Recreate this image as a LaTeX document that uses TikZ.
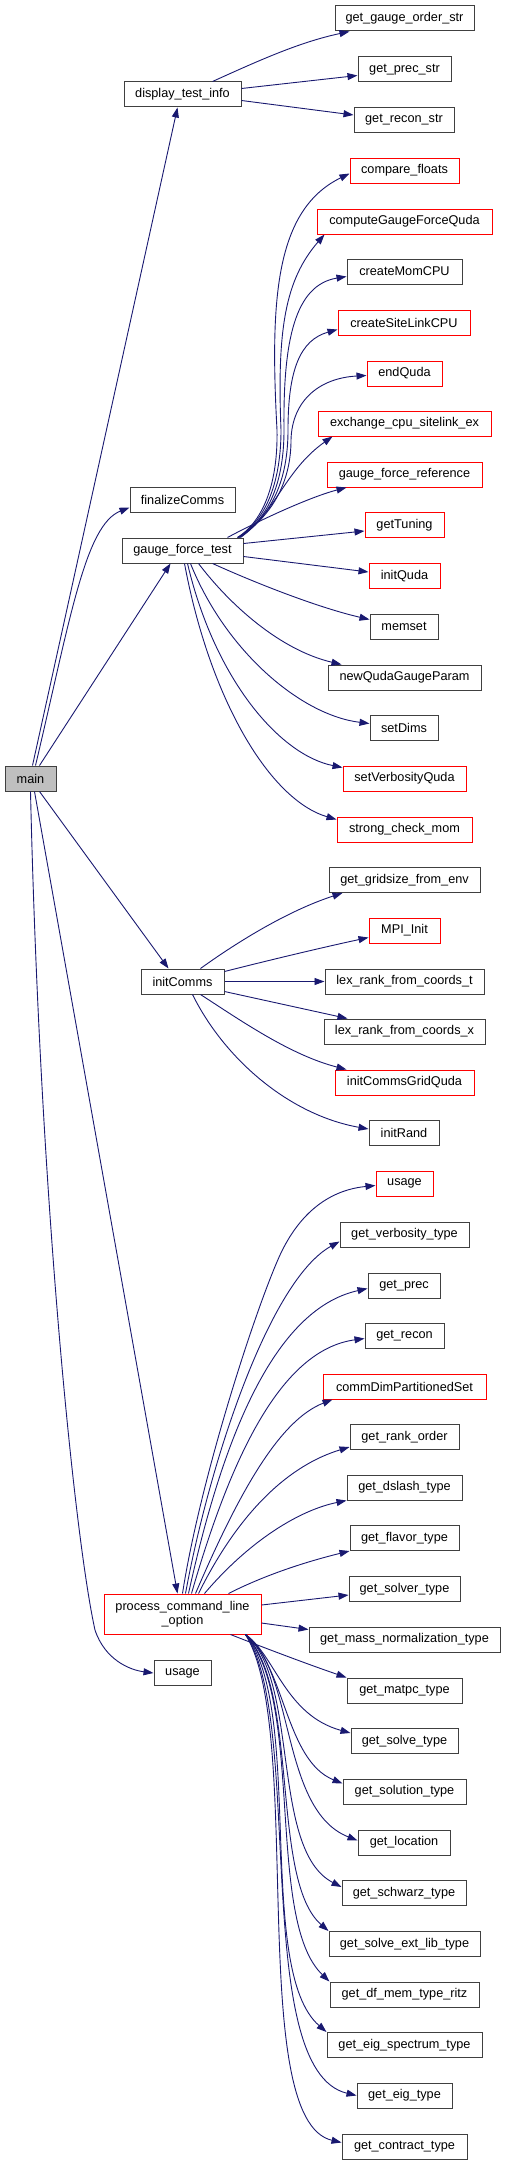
\documentclass[tikz,border=0pt]{standalone}
\usepackage{fontspec}
\setmainfont{Liberation Sans}
\usetikzlibrary{arrows.meta,calc}
\definecolor{edgeblue}{HTML}{191970}
\definecolor{boxgray}{HTML}{404040}
\definecolor{mainfill}{HTML}{BFBFBF}
\tikzset{
  fn/.style={draw=boxgray, line width=1pt, rectangle, inner sep=0pt, minimum height=25pt, font=\fontsize{12.7}{14.5}\selectfont, align=center},
  fnred/.style={fn, draw=red},
  fnmain/.style={fn, fill=mainfill},
  edge/.style={draw=edgeblue, line width=0.9pt, -{Triangle[length=10pt,width=7pt]}},
}
\newcommand\gnode[6]{\node[#5, minimum width=#4pt] (#1) at (#2,#3) {#6};}
\begin{document}
\begin{tikzpicture}[x=1pt,y=-1pt]
\useasboundingbox (0,0) rectangle (505,2165);
% nodes
\gnode{gos}{404.5}{18.5}{139}{fn}{get\_gauge\_order\_str}
\gnode{pstr}{404.5}{69.5}{93}{fn}{get\_prec\_str}
\gnode{dti}{182.5}{94.5}{117}{fn}{display\_test\_info}
\gnode{rstr}{404}{120}{100}{fn}{get\_recon\_str}
\gnode{cf}{404.5}{170.5}{109}{fnred}{compare\_floats}
\gnode{cgf}{404.5}{221.5}{175}{fnred}{computeGaugeForceQuda}
\gnode{cmc}{404.5}{271.5}{115}{fn}{createMomCPU}
\gnode{csl}{404}{322.5}{132}{fnred}{createSiteLinkCPU}
\gnode{eq}{404.5}{373.5}{75}{fnred}{endQuda}
\gnode{ex}{404.5}{423.5}{173}{fnred}{exchange\_cpu\_sitelink\_ex}
\gnode{gfr}{404.5}{474.5}{155}{fnred}{gauge\_force\_reference}
\gnode{fc}{182.5}{499.5}{105}{fn}{finalizeComms}
\gnode{gt}{404.5}{525}{79}{fnred}{getTuning}
\gnode{gft}{182.5}{550.5}{121}{fn}{gauge\_force\_test}
\gnode{iq}{404.5}{576}{71}{fnred}{initQuda}
\gnode{ms}{404}{626.5}{68}{fn}{memset}
\gnode{nqg}{404.5}{677.5}{153}{fn}{newQudaGaugeParam}
\gnode{sd}{404}{727.5}{68}{fn}{setDims}
\gnode{main}{30.5}{778.5}{51}{fnmain}{main}
\gnode{svq}{404.5}{778.5}{123}{fnred}{setVerbosityQuda}
\gnode{scm}{404.5}{829.5}{135}{fnred}{strong\_check\_mom}
\gnode{gge}{404.5}{880}{151}{fn}{get\_gridsize\_from\_env}
\gnode{mpi}{404.5}{930.5}{71}{fnred}{MPI\_Init}
\gnode{ic}{182.5}{981.5}{83}{fn}{initComms}
\gnode{lrt}{404.5}{981.5}{159}{fn}{lex\_rank\_from\_coords\_t}
\gnode{lrx}{404.5}{1031.5}{161}{fn}{lex\_rank\_from\_coords\_x}
\gnode{icg}{404.5}{1082.5}{139}{fnred}{initCommsGridQuda}
\gnode{ir}{404}{1133}{70}{fn}{initRand}
\gnode{usa}{404.5}{1183.5}{57}{fnred}{usage}
\gnode{gvt}{404.5}{1234.5}{129}{fn}{get\_verbosity\_type}
\gnode{gp}{404}{1285.5}{72}{fn}{get\_prec}
\gnode{gr}{404.5}{1335.5}{79}{fn}{get\_recon}
\gnode{cdp}{404.5}{1386.5}{163}{fnred}{commDimPartitionedSet}
\gnode{gro}{404.5}{1437}{109}{fn}{get\_rank\_order}
\gnode{gdt}{404.5}{1487.5}{115}{fn}{get\_dslash\_type}
\gnode{gfl}{404.5}{1538}{109}{fn}{get\_flavor\_type}
\gnode{gst}{404.5}{1589}{111}{fn}{get\_solver\_type}
\node[fnred, minimum width=157pt, minimum height=40pt] (pclo) at (182.5,1614) {process\_command\_line\\\_option};
\gnode{gmn}{404.5}{1639.5}{191}{fn}{get\_mass\_normalization\_type}
\gnode{usb}{182.5}{1673}{57}{fn}{usage}
\gnode{gmt}{404.5}{1690.5}{115}{fn}{get\_matpc\_type}
\gnode{gsot}{404.5}{1741}{107}{fn}{get\_solve\_type}
\gnode{gsn}{404.5}{1791.5}{123}{fn}{get\_solution\_type}
\gnode{gl}{404}{1842.5}{92}{fn}{get\_location}
\gnode{gsw}{404}{1893}{124}{fn}{get\_schwarz\_type}
\gnode{gsel}{404.5}{1944}{151}{fn}{get\_solve\_ext\_lib\_type}
\gnode{gdf}{404.5}{1994.5}{149}{fn}{get\_df\_mem\_type\_ritz}
\gnode{ges}{404.5}{2045}{155}{fn}{get\_eig\_spectrum\_type}
\gnode{get}{404.5}{2095.5}{95}{fn}{get\_eig\_type}
\gnode{gct}{404.5}{2146.5}{125}{fn}{get\_contract\_type}
% main edges
\draw[edge] ($(main.north)+(2,0)$) -- ($(dti.south)+(-5,0)$);
\draw[edge] ($(main.north)+(5,0)$) .. controls (70,620) and (85,525) .. ($(fc.west)+(0,8)$);
\draw[edge] ($(main.north)+(9,0)$) -- ($(gft.south)+(-12,0)$);
\draw[edge] ($(main.south)+(9,0)$) -- ($(ic.north)+(-14,0)$);
\draw[edge] ($(main.south)+(4,0)$) -- ($(pclo.north)+(-5,0)$);
\draw[edge] (main.south) .. controls (40,1200) and (75,1540) .. (95,1630) .. controls (105,1660) and (130,1670) .. (usb.west);
% display_test_info
\draw[edge] ($(dti.north)+(30,0)$) .. controls (260,60) and (300,42) .. ($(gos.south west)+(15,0)$);
\draw[edge] ($(dti.east)+(0,-6)$) -- ($(pstr.west)+(0,6)$);
\draw[edge] ($(dti.east)+(0,6)$) -- ($(rstr.west)+(0,-5)$);
% gauge_force_test up
\draw[edge] ($(gft.north east)+(-6,0)$) .. controls (265,520) and (278,480) .. (277,430) .. controls (270,300) and (275,210) .. ($(cf.west)+(0,3)$);
\draw[edge] ($(gft.north east)+(-6,0)$) .. controls (267,520) and (281,480) .. (281,430) .. controls (277,330) and (285,280) .. ($(cgf.south west)+(8,0)$);
\draw[edge] ($(gft.north east)+(-5,0)$) .. controls (270,518) and (284,480) .. (284,430) .. controls (283,340) and (295,285) .. ($(cmc.west)+(0,5)$);
\draw[edge] ($(gft.north east)+(-5,0)$) .. controls (272,516) and (288,480) .. (288,430) .. controls (288,370) and (300,340) .. ($(csl.west)+(0,7)$);
\draw[edge] ($(gft.north east)+(-4,0)$) .. controls (274,514) and (291,480) .. (291,440) .. controls (292,400) and (320,378) .. ($(eq.west)+(0,2)$);
\draw[edge] ($(gft.north east)+(-3,0)$) .. controls (276,512) and (285,470) .. ($(ex.south west)+(15,0)$);
\draw[edge] ($(gft.north)+(45,0)$) .. controls (260,520) and (310,497) .. ($(gfr.south west)+(20,0)$);
\draw[edge] ($(gft.east)+(0,-7)$) -- ($(gt.west)+(0,6)$);
% gauge_force_test down
\draw[edge] ($(gft.east)+(0,6)$) -- ($(iq.west)+(0,-4)$);
\draw[edge] ($(gft.south)+(30,0)$) .. controls (260,585) and (320,608) .. ($(ms.west)+(0,-7)$);
\draw[edge] ($(gft.south)+(16,0)$) .. controls (230,605) and (280,650) .. ($(nqg.north west)+(14,0)$);
\draw[edge] ($(gft.south)+(8,0)$) .. controls (225,650) and (300,715) .. ($(sd.west)+(0,-4)$);
\draw[edge] ($(gft.south)+(5,0)$) .. controls (215,680) and (280,755) .. ($(svq.north west)+(0,2)$);
\draw[edge] ($(gft.south)+(2,0)$) .. controls (210,700) and (270,800) .. ($(scm.north west)+(0,3)$);
% initComms
\draw[edge] ($(ic.north)+(18,0)$) .. controls (240,940) and (290,910) .. ($(gge.south west)+(14,0)$);
\draw[edge] ($(ic.east)+(0,-10)$) .. controls (270,960) and (320,948) .. ($(mpi.west)+(0,7)$);
\draw[edge] (ic.east) -- (lrt.west);
\draw[edge] ($(ic.east)+(0,10)$) -- ($(lrx.north west)+(24,0)$);
\draw[edge] ($(ic.south)+(18,0)$) .. controls (240,1020) and (290,1055) .. ($(icg.north west)+(12,0)$);
\draw[edge] ($(ic.south)+(10,0)$) .. controls (225,1060) and (290,1115) .. ($(ir.west)+(0,-4)$);
% process_command_line_option up
\draw[edge] (pclo.north) .. controls (200,1480) and (255,1310) .. (280,1255) .. controls (300,1212) and (330,1190) .. ($(usa.west)+(0,2)$);
\draw[edge] ($(pclo.north)+(3,0)$) .. controls (210,1460) and (270,1280) .. ($(gvt.west)+(0,7)$);
\draw[edge] ($(pclo.north)+(6,0)$) .. controls (220,1450) and (270,1310) .. ($(gp.west)+(0,3)$);
\draw[edge] ($(pclo.north)+(9,0)$) .. controls (230,1460) and (280,1350) .. ($(gr.west)+(0,3)$);
\draw[edge] ($(pclo.north)+(13,0)$) .. controls (240,1490) and (280,1420) .. ($(cdp.south west)+(10,0)$);
\draw[edge] ($(pclo.north)+(16,0)$) .. controls (240,1510) and (290,1465) .. ($(gro.west)+(0,10)$);
\draw[edge] ($(pclo.north)+(22,0)$) .. controls (250,1540) and (300,1510) .. (gdt.south west);
\draw[edge] ($(pclo.north east)+(-33,0)$) .. controls (265,1575) and (305,1562) .. (gfl.south west);
\draw[edge] ($(pclo.east)+(0,-9)$) -- ($(gst.west)+(0,6)$);
\draw[edge] ($(pclo.east)+(0,9)$) -- ($(gmn.west)+(0,-10)$);
\draw[edge] ($(pclo.south east)+(-31,0)$) .. controls (270,1650) and (310,1665) .. (gmt.north west);
% process_command_line_option down bundle
\draw[edge] ($(pclo.south east)+(-16,0)$) .. controls (275,1655) and (285,1715) .. ($(gsot.west)+(0,-8)$);
\draw[edge] ($(pclo.south east)+(-16,0)$) .. controls (285,1665) and (285,1760) .. ($(gsn.west)+(0,-8)$);
\draw[edge] ($(pclo.south east)+(-16,0)$) .. controls (295,1670) and (280,1810) .. ($(gl.west)+(0,-2)$);
\draw[edge] ($(pclo.south east)+(-16,0)$) .. controls (300,1680) and (270,1850) .. ($(gsw.north west)+(0,7)$);
\draw[edge] ($(pclo.south east)+(-16,0)$) .. controls (300,1690) and (270,1880) .. (gsel.north west);
\draw[edge] ($(pclo.south east)+(-16,0)$) .. controls (305,1700) and (265,1920) .. (gdf.north west);
\draw[edge] ($(pclo.south east)+(-16,0)$) .. controls (305,1710) and (255,1970) .. (ges.north west);
\draw[edge] ($(pclo.south east)+(-16,0)$) .. controls (305,1720) and (250,2070) .. (get.west);
\draw[edge] ($(pclo.south east)+(-16,0)$) .. controls (305,1730) and (245,2120) .. ($(gct.west)+(0,-4)$);
\end{tikzpicture}
\end{document}
